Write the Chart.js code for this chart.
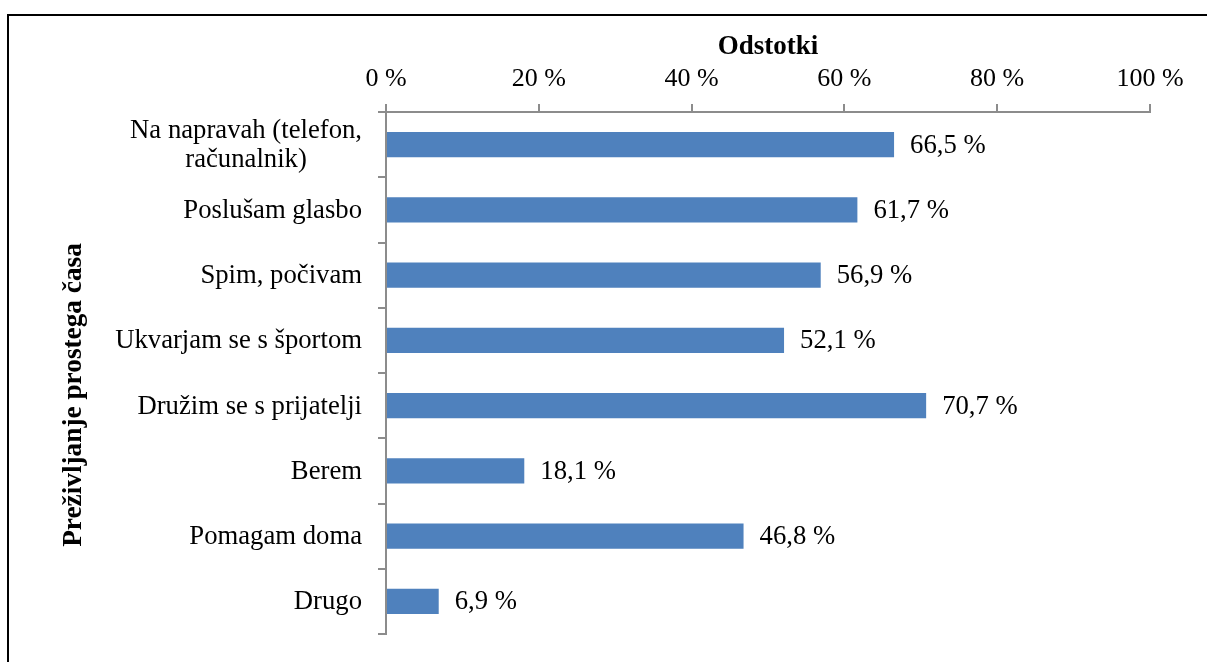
<!DOCTYPE html>
<html lang="sl">
<head>
    <meta charset="UTF-8">
    <title>Preživljanje prostega časa</title>
    <style>
        body { margin: 0; background: #fff; overflow: hidden; }
        .frame { position: absolute; left: 7px; top: 14px; width: 1300px; height: 700px; border-left: 2px solid #000; border-top: 2px solid #000; }
        #chart { position: absolute; left: 0; top: 0; }
    </style>
</head>
<body>
<div class="frame"></div>
<canvas id="chart" width="1207" height="662"></canvas>

<script src="https://cdn.jsdelivr.net/npm/chart.js"></script>
<script>
    // data
    const categories = [
        ['Na napravah (telefon,', 'računalnik)'],
        ['Poslušam glasbo'],
        ['Spim, počivam'],
        ['Ukvarjam se s športom'],
        ['Družim se s prijatelji'],
        ['Berem'],
        ['Pomagam doma'],
        ['Drugo']
    ];
    const values = [66.5, 61.7, 56.9, 52.1, 70.7, 18.1, 46.8, 6.9];
    const xTicks = [0, 20, 40, 60, 80, 100];
    const xTitle = 'Odstotki';
    const yTitle = 'Preživljanje prostega časa';

    const FONT = "'Liberation Serif', 'Times New Roman', serif";
    const AXIS = '#8c8c8c';

    const fmt = v => v.toFixed(1).replace('.', ',') + ' %';

    // category labels, bar value labels and the vertical title
    const textPlugin = {
        id: 'texts',
        afterDraw(chart) {
            const ctx = chart.ctx;
            const y = chart.scales.y;
            const x = chart.scales.x;
            const meta = chart.getDatasetMeta(0);
            ctx.save();
            ctx.fillStyle = '#000';
            ctx.font = '26.7px ' + FONT;
            ctx.textBaseline = 'alphabetic';

            categories.forEach((lines, i) => {
                const cy = y.getPixelForValue(i);
                const widths = lines.map(l => ctx.measureText(l).width);
                const w = Math.max(...widths);
                const right = x.left - 24;
                lines.forEach((l, j) => {
                    const base = cy + 8 - (lines.length - 1) * 29 / 2 + j * 29;
                    ctx.textAlign = 'center';
                    ctx.fillText(l, right - w / 2, base);
                });
            });

            ctx.textAlign = 'left';
            meta.data.forEach((bar, i) => {
                ctx.fillText(fmt(values[i]), bar.x + 16, bar.y + 8);
            });

            ctx.font = 'bold 27.3px ' + FONT;
            ctx.translate(81, 395);
            ctx.rotate(-Math.PI / 2);
            ctx.textAlign = 'center';
            ctx.fillText(yTitle, 0, 0);
            ctx.restore();
        }
    };

    new Chart(document.getElementById('chart'), {
        type: 'bar',
        data: {
            labels: categories,
            datasets: [{
                data: values,
                backgroundColor: '#4f81bd',
                borderWidth: 0,
                categoryPercentage: 1,
                barPercentage: 0.39
            }]
        },
        options: {
            indexAxis: 'y',
            responsive: false,
            animation: false,
            layout: { padding: { left: 0, top: 0, right: 57, bottom: 28 } },
            plugins: { legend: { display: false }, tooltip: { enabled: false } },
            scales: {
                x: {
                    position: 'top',
                    min: 0,
                    max: 100,
                    afterFit: s => { s.height = 112; },
                    afterBuildTicks: s => { s.ticks = xTicks.map(v => ({ value: v })); },
                    border: { color: AXIS, width: 2 },
                    grid: { drawOnChartArea: false, tickLength: 8, color: AXIS, lineWidth: 2 },
                    ticks: {
                        padding: 9,
                        color: '#000',
                        font: { family: FONT, size: 26 },
                        callback: v => v + ' %'
                    },
                    title: {
                        display: true,
                        text: xTitle,
                        color: '#000',
                        font: { family: FONT, size: 27, weight: 'bold' },
                        padding: { top: 31, bottom: 0 }
                    }
                },
                y: {
                    afterFit: s => { s.width = 386; },
                    border: { color: AXIS, width: 2 },
                    grid: { drawOnChartArea: false, tickLength: 8, color: AXIS, lineWidth: 2 },
                    ticks: { display: false }
                }
            }
        },
        plugins: [textPlugin]
    });
</script>
</body>
</html>
